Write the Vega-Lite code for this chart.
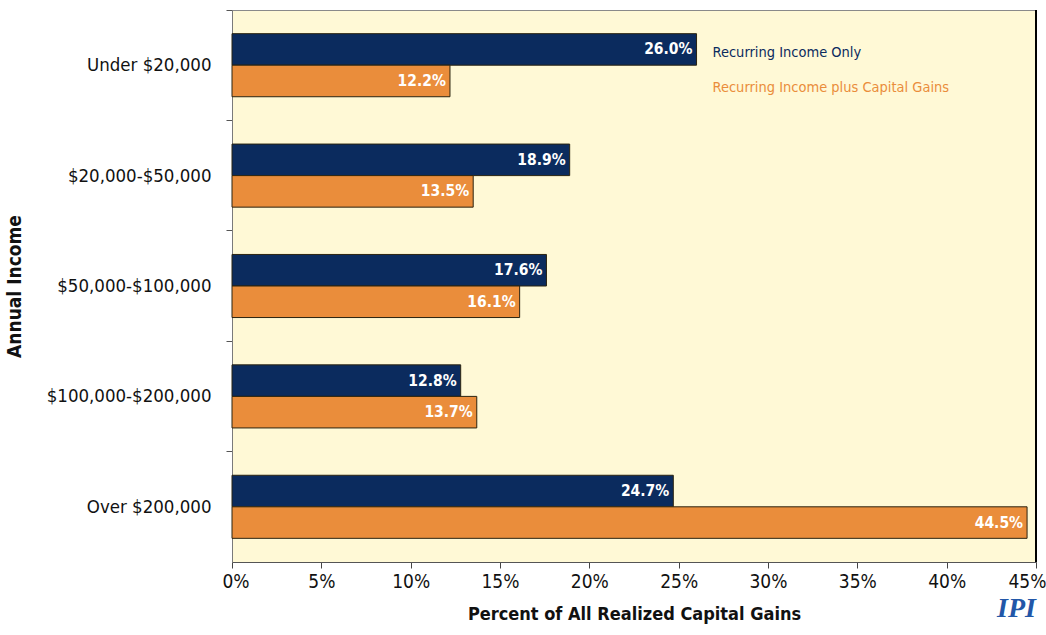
{
  "$schema": "https://vega.github.io/schema/vega-lite/v6.json",
  "autosize": {"type": "none"},
  "width": 804,
  "height": 552,
  "padding": {"left": 232, "top": 10, "right": 10, "bottom": 73},
  "background": "white",
  "title": {"text": "IPI", "orient": "bottom", "anchor": "end", "frame": "group", "font": "Liberation Serif", "fontStyle": "italic", "fontWeight": "bold", "fontSize": 28, "color": "#2257A8", "offset": -28},
  "config": {
    "font": "'DejaVu Sans Condensed', Roboto, sans-serif",
    "view": {"fill": "#FFF9D6", "stroke": "#8a8a8a", "strokeWidth": 1}
  },
  "data": {
    "values": [
      {"income": "Under $20,000", "series": "Recurring Income Only", "pct": 0.260},
      {"income": "Under $20,000", "series": "Recurring Income plus Capital Gains", "pct": 0.122},
      {"income": "$20,000-$50,000", "series": "Recurring Income Only", "pct": 0.189},
      {"income": "$20,000-$50,000", "series": "Recurring Income plus Capital Gains", "pct": 0.135},
      {"income": "$50,000-$100,000", "series": "Recurring Income Only", "pct": 0.176},
      {"income": "$50,000-$100,000", "series": "Recurring Income plus Capital Gains", "pct": 0.161},
      {"income": "$100,000-$200,000", "series": "Recurring Income Only", "pct": 0.128},
      {"income": "$100,000-$200,000", "series": "Recurring Income plus Capital Gains", "pct": 0.137},
      {"income": "Over $200,000", "series": "Recurring Income Only", "pct": 0.247},
      {"income": "Over $200,000", "series": "Recurring Income plus Capital Gains", "pct": 0.445}
    ]
  },
  "encoding": {
    "y": {
      "field": "income", "type": "nominal",
      "sort": ["Under $20,000", "$20,000-$50,000", "$50,000-$100,000", "$100,000-$200,000", "Over $200,000"],
      "scale": {"paddingInner": 0, "paddingOuter": 0},
      "axis": {
        "title": "Annual Income", "titleFontSize": 19, "titleFontWeight": "bold", "titleColor": "#111", "titlePadding": 22,
        "labelFontSize": 18.5, "labelColor": "#111", "labelPadding": 15,
        "tickSize": 6, "tickColor": "#555", "domainColor": "#7a7a7a", "bandPosition": 0
      }
    },
    "yOffset": {
      "field": "series", "type": "nominal",
      "sort": ["Recurring Income Only", "Recurring Income plus Capital Gains"],
      "scale": {"paddingInner": 0, "paddingOuter": 0.75}
    },
    "x": {
      "field": "pct", "type": "quantitative",
      "scale": {"domain": [0, 0.45], "nice": false},
      "axis": {
        "format": ".0%", "values": [0, 0.05, 0.1, 0.15, 0.2, 0.25, 0.3, 0.35, 0.4, 0.45],
        "title": "Percent of All Realized Capital Gains", "titleFontSize": 18, "titleFontWeight": "bold", "titleColor": "#111", "titlePadding": 14,
        "labelFontSize": 19, "labelColor": "#111", "labelFlush": true, "labelFlushOffset": 10, "labelPadding": 4,
        "grid": false, "tickSize": 6, "tickColor": "#444", "domainColor": "#555"
      }
    }
  },
  "layer": [
    {
      "mark": {"type": "bar", "stroke": "#2b2410", "strokeWidth": 1},
      "encoding": {
        "color": {
          "field": "series", "type": "nominal",
          "scale": {"domain": ["Recurring Income Only", "Recurring Income plus Capital Gains"], "range": ["#0B2B5E", "#EA8D3B"]},
          "legend": {
            "orient": "none", "legendX": 466, "legendY": 36, "title": null,
            "symbolOpacity": 0, "symbolSize": 0, "symbolStrokeWidth": 0, "labelOffset": 0,
            "labelFontSize": 14.5, "labelLimit": 400, "rowPadding": 20, "padding": 0,
            "labelColor": {"expr": "datum.value == 'Recurring Income Only' ? '#0B2B5E' : '#EA8D3B'"}
          }
        }
      }
    },
    {
      "mark": {"type": "text", "align": "right", "baseline": "middle", "dx": -4, "color": "white", "fontWeight": "bold", "fontSize": 15.5},
      "encoding": {"text": {"field": "pct", "type": "quantitative", "format": ".1%"}}
    },
    {
      "mark": {"type": "rule", "color": "black", "strokeWidth": 2},
      "encoding": {"x": {"datum": 0.45}, "y": null, "yOffset": null}
    }
  ]
}
